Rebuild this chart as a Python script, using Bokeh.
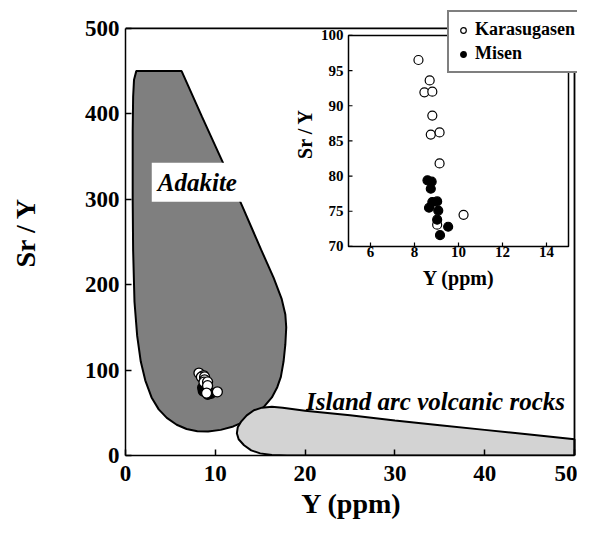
import math
from bokeh.plotting import figure
from bokeh.models import Range1d, FixedTicker, Label, Legend, LegendItem
from bokeh.embed import file_html
from bokeh.resources import INLINE

# ---------------- data ----------------
karasugasen_y = [8.18, 8.69, 8.45, 8.81, 8.81, 8.74, 9.14, 9.14, 10.23, 9.03]
karasugasen_sry = [96.5, 93.6, 91.9, 92.0, 88.6, 85.9, 86.2, 81.8, 74.5, 73.1]
misen_y = [8.59, 8.78, 8.74, 9.03, 8.81, 8.66, 9.08, 9.03, 9.53, 9.16]
misen_sry = [79.4, 79.2, 78.2, 76.4, 76.3, 75.5, 75.1, 73.8, 72.8, 71.6]

adakite_x = [1.2, 6.25, 8.5, 10.8, 13.0, 15.1, 16.5, 17.4, 17.8, 17.9, 17.8, 17.6,
             17.3, 16.9, 16.3, 15.5, 14.5, 13.3, 12.0, 10.6, 9.2, 8.0, 6.8, 5.7,
             4.6, 3.7, 2.9, 2.2, 1.7, 1.3, 1.0, 0.85, 0.8, 0.8, 0.85, 0.95]
adakite_sry = [450, 450, 397, 344, 292, 241, 208, 183, 165, 150, 130, 110,
               92, 80, 68, 58, 48, 40, 34, 30, 28, 28.5, 31, 36,
               44, 54, 68, 88, 110, 140, 180, 240, 300, 380, 420, 440]

arc_x = [50, 50, 45, 40, 35, 30, 25, 20, 17.5, 16.3, 15.2, 14.3, 13.5, 12.9,
         12.5, 12.4, 12.6, 13.2, 14.0, 15.0, 16.3, 18]
arc_sry = [0, 19, 24.5, 30, 35.5, 41, 47, 52.5, 56, 57, 56, 53, 47, 40,
           33, 26, 19, 12, 6, 2.5, 0.5, 0]

main_x_lim = (0, 50)
main_y_lim = (0, 500)
main_xticks = [0, 10, 20, 30, 40, 50]
main_yticks = [0, 100, 200, 300, 400, 500]
inset_x_lim = (5, 15)
inset_y_lim = (70, 100)
inset_xticks = [6, 8, 10, 12, 14]
inset_yticks = [70, 75, 80, 85, 90, 95, 100]

adakite_label_pos = (8.0, 320)
arc_label_pos = (20.1, 63)
inset_ylabel_pos = 86

# ---------------- layout constants (pixels) ----------------
W, H = 577, 521
B_LEFT, B_RIGHT, B_TOP, B_BOTTOM = 125, 0, 9, 64
FRAME_W = W - B_LEFT - B_RIGHT
FRAME_H = H - B_TOP - B_BOTTOM
AX_W = 449                               # pixel width of main 0..50
AX_H = 429                               # pixel height of main 0..500
# inset box in pixels, relative to frame left / frame bottom
IN_LEFT, IN_RIGHT = 223, 443
IN_BOTTOM, IN_TOP = 210, 422
LEGEND_LOC = (322, 382)

SERIF = "Liberation Serif"

mx0, mx1 = main_x_lim
my0, my1 = main_y_lim
mx_per_px = (mx1 - mx0) / AX_W
my_per_px = (my1 - my0) / AX_H
main_xr = Range1d(mx0, mx0 + FRAME_W * mx_per_px)
main_yr = Range1d(my0, my0 + FRAME_H * my_per_px)

ix0, ix1 = inset_x_lim
iy0, iy1 = inset_y_lim
ix_per_px = (ix1 - ix0) / (IN_RIGHT - IN_LEFT)
iy_per_px = (iy1 - iy0) / (IN_TOP - IN_BOTTOM)
inset_xr = Range1d(ix0 - IN_LEFT * ix_per_px, ix0 + (FRAME_W - IN_LEFT) * ix_per_px)
inset_yr = Range1d(iy0 - IN_BOTTOM * iy_per_px, iy0 + (FRAME_H - IN_BOTTOM) * iy_per_px)

p = figure(width=W, height=H, x_range=main_xr, y_range=main_yr,
           output_backend="svg", toolbar_location=None,
           min_border_left=B_LEFT, min_border_right=B_RIGHT,
           min_border_top=B_TOP, min_border_bottom=B_BOTTOM)
p.extra_x_ranges = {"ix": inset_xr}
p.extra_y_ranges = {"iy": inset_yr}
p.grid.visible = False
p.outline_line_color = None
p.background_fill_color = "white"
p.xaxis.ticker = FixedTicker(ticks=main_xticks)
p.yaxis.ticker = FixedTicker(ticks=main_yticks)
p.xaxis.bounds = main_x_lim
p.yaxis.bounds = main_y_lim
p.xaxis.axis_label = "Y (ppm)"
p.yaxis.axis_label = "Sr / Y"
for ax in (p.xaxis[0], p.yaxis[0]):
    ax.major_tick_in = 6
    ax.major_tick_out = 0
    ax.minor_tick_line_color = None
    ax.axis_line_width = 1.5
    ax.major_tick_line_width = 1.5
    ax.major_label_text_font = SERIF
    ax.major_label_text_font_style = "bold"
    ax.major_label_text_font_size = "23px"
    ax.major_label_text_color = "black"
    ax.axis_label_text_font = SERIF
    ax.axis_label_text_font_style = "bold"
    ax.axis_label_text_font_size = "28px"
    ax.axis_label_text_color = "black"
p.xaxis.major_label_standoff = 10
p.yaxis.major_label_standoff = 6
p.xaxis.axis_label_standoff = 4
p.yaxis.axis_label_standoff = 41

# regions
p.patch(adakite_x, adakite_sry, fill_color="#7f7f7f", line_color="black", line_width=2)
p.patch(arc_x, arc_sry, fill_color="#d3d3d3", line_color="black", line_width=2)

# top and right borders of the main box
p.segment(x0=[mx0, mx1], y0=[my1, my0], x1=[mx1, mx1], y1=[my1, my1],
          line_color="black", line_width=1.8)

# main points
p.scatter(misen_y, misen_sry, marker="circle", size=10, fill_color="black",
          line_color="black", line_width=1.3)
p.scatter(karasugasen_y, karasugasen_sry, marker="circle", size=10, fill_color="white",
          line_color="black", line_width=1.3)

p.add_layout(Label(x=adakite_label_pos[0], y=adakite_label_pos[1], text="Adakite",
                   text_align="center", text_baseline="alphabetic", text_color="black",
                   text_font=SERIF, text_font_style="bold italic", text_font_size="25px",
                   background_fill_color="white", padding=6))
p.add_layout(Label(x=arc_label_pos[0], y=arc_label_pos[1], text="Island arc volcanic rocks",
                   text_align="left", text_baseline="alphabetic", text_color="black",
                   text_font=SERIF, text_font_style="bold italic", text_font_size="25px"))

# ---------------- inset (drawn on the inset ranges) ----------------
R = dict(x_range_name="ix", y_range_name="iy")
p.quad(left=[ix0], right=[ix1], bottom=[iy0], top=[iy1], fill_color="white",
       line_color="black", line_width=1.5, **R)
tick_len_y = 4 * iy_per_px
tick_len_x = 4 * ix_per_px
p.segment(x0=inset_xticks, y0=[iy0] * len(inset_xticks), x1=inset_xticks,
          y1=[iy0 + tick_len_y] * len(inset_xticks), line_color="black", line_width=1.2, **R)
p.segment(x0=[ix0] * len(inset_yticks), y0=inset_yticks,
          x1=[ix0 + tick_len_x] * len(inset_yticks), y1=inset_yticks,
          line_color="black", line_width=1.2, **R)
p.text(x=inset_xticks, y=[iy0] * len(inset_xticks), text=[str(t) for t in inset_xticks],
       text_align="center", text_baseline="top", y_offset=1,
       text_font=SERIF, text_font_style="bold", text_font_size="15px", text_color="black", **R)
p.text(x=[ix0] * len(inset_yticks), y=inset_yticks, text=[str(t) for t in inset_yticks],
       text_align="right", text_baseline="middle", x_offset=-5,
       text_font=SERIF, text_font_style="bold", text_font_size="15px", text_color="black", **R)
p.text(x=[(ix0 + ix1) / 2], y=[iy0], text=["Y (ppm)"], text_align="center",
       text_baseline="alphabetic", y_offset=32,
       text_font=SERIF, text_font_style="bold", text_font_size="20px", text_color="black", **R)
p.text(x=[ix0], y=[inset_ylabel_pos], text=["Sr / Y"], text_align="center", angle=math.pi / 2,
       text_baseline="alphabetic", x_offset=-44,
       text_font=SERIF, text_font_style="bold", text_font_size="20px", text_color="black", **R)

rk = p.scatter(karasugasen_y, karasugasen_sry, marker="circle", size=9,
               fill_color="white", line_color="black", line_width=1.2, **R)
rm = p.scatter(misen_y, misen_sry, marker="circle", size=9,
               fill_color="black", line_color="black", line_width=1.2, **R)

legend = Legend(items=[LegendItem(label="Karasugasen", renderers=[rk]),
                       LegendItem(label="Misen", renderers=[rm])],
                location=LEGEND_LOC, margin=0, padding=7, spacing=3,
                glyph_width=14, glyph_height=20, label_height=20, label_standoff=5,
                label_text_font=SERIF, label_text_font_style="bold",
                label_text_font_size="18px", label_text_color="black",
                border_line_color="black", border_line_width=2,
                background_fill_color="white", background_fill_alpha=1)
p.add_layout(legend)

open("out.html", "w").write(file_html(p, INLINE))
